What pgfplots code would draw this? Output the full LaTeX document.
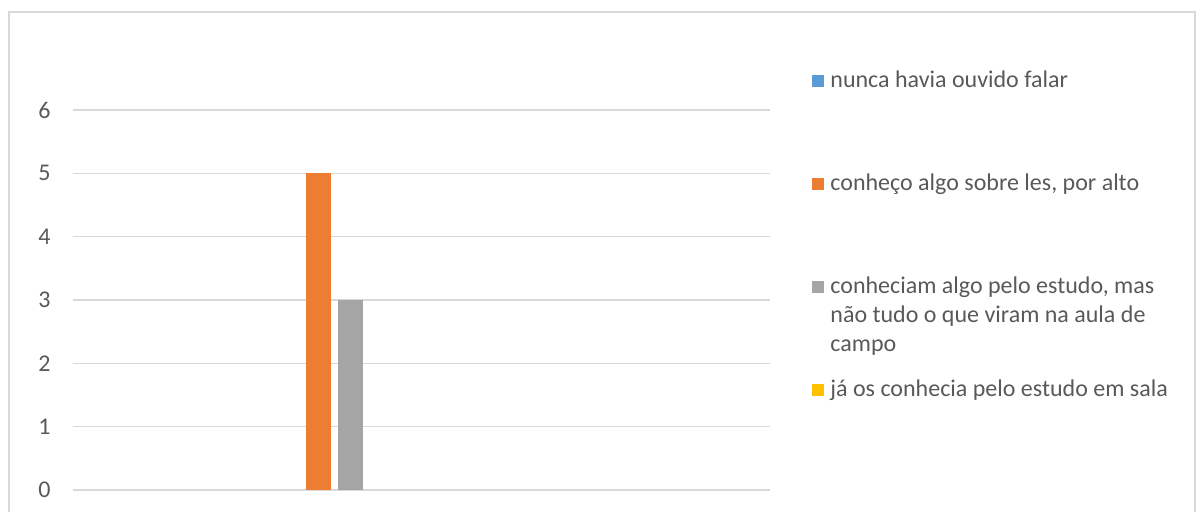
\documentclass[border=0pt]{standalone}
\usepackage{fontspec}
\setmainfont{Carlito}
\usepackage{pgfplots}
\pgfplotsset{compat=1.18}
\definecolor{txt}{HTML}{595959}
\definecolor{gridc}{HTML}{D9D9D9}
\definecolor{c1}{HTML}{5B9BD5}
\definecolor{c2}{HTML}{ED7D31}
\definecolor{c3}{HTML}{A5A5A5}
\definecolor{c4}{HTML}{FFC000}
\pgfplotsset{sqlegend/.style={legend image code/.code={\fill[#1, opacity=1, fill opacity=1] (0pt,0pt) rectangle (6pt,6pt);}}}
\newcommand{\lentry}[1]{\parbox[t][51.5pt][t]{220pt}{\raggedright\strut #1\strut}}
\begin{document}
\begin{tikzpicture}
\useasboundingbox (-36.5pt,-10.5pt) rectangle (565pt,245pt);
\draw[color=gridc, line width=0.75pt] (-32pt,-12pt) -- (-32pt,239pt) -- (561pt,239pt) -- (561pt,-12pt);
\begin{axis}[
  scale only axis, width=348.5pt, height=190pt,
  xmin=0, xmax=697, ymin=0, ymax=6,
  axis line style={draw=none},
  xtick=\empty, ytick={0,1,...,6},
  major tick length=0pt,
  ymajorgrids, grid style={color=gridc, line width=0.75pt},
  yticklabel style={font=\fontsize{12}{14}\selectfont, text=txt, anchor=east, inner sep=0pt, xshift=-11pt},
  /pgf/number format/assume math mode=true,
  ybar=3.5pt, bar width=12.5pt,
  legend style={draw=none, fill=none, inner sep=0pt, row sep=0pt, column sep=3pt,
    at={(axis description cs:1.06026,1.11395)}, anchor=north west,
    nodes={inner sep=0pt, text depth={}, text=txt, font=\fontsize{12}{14.5}\selectfont, anchor=base west}},
]
\addplot[fill=c1, fill opacity=0, draw=none, sqlegend=c1] coordinates {(261.5,0)};
\addplot[fill=c2, draw=none, sqlegend=c2] coordinates {(261.5,5)};
\addplot[fill=c3, draw=none, sqlegend=c3] coordinates {(261.5,3)};
\addplot[fill=c4, fill opacity=0, draw=none, sqlegend=c4] coordinates {(261.5,0)};
\addlegendentry{\lentry{nunca havia ouvido falar}}
\addlegendentry{\lentry{conheço algo sobre les, por alto}}
\addlegendentry{\lentry{conheciam algo pelo estudo, mas\\ não tudo o que viram na aula de\\ campo}}
\addlegendentry{\lentry{já os conhecia pelo estudo em sala}}
\end{axis}
\end{tikzpicture}
\end{document}
